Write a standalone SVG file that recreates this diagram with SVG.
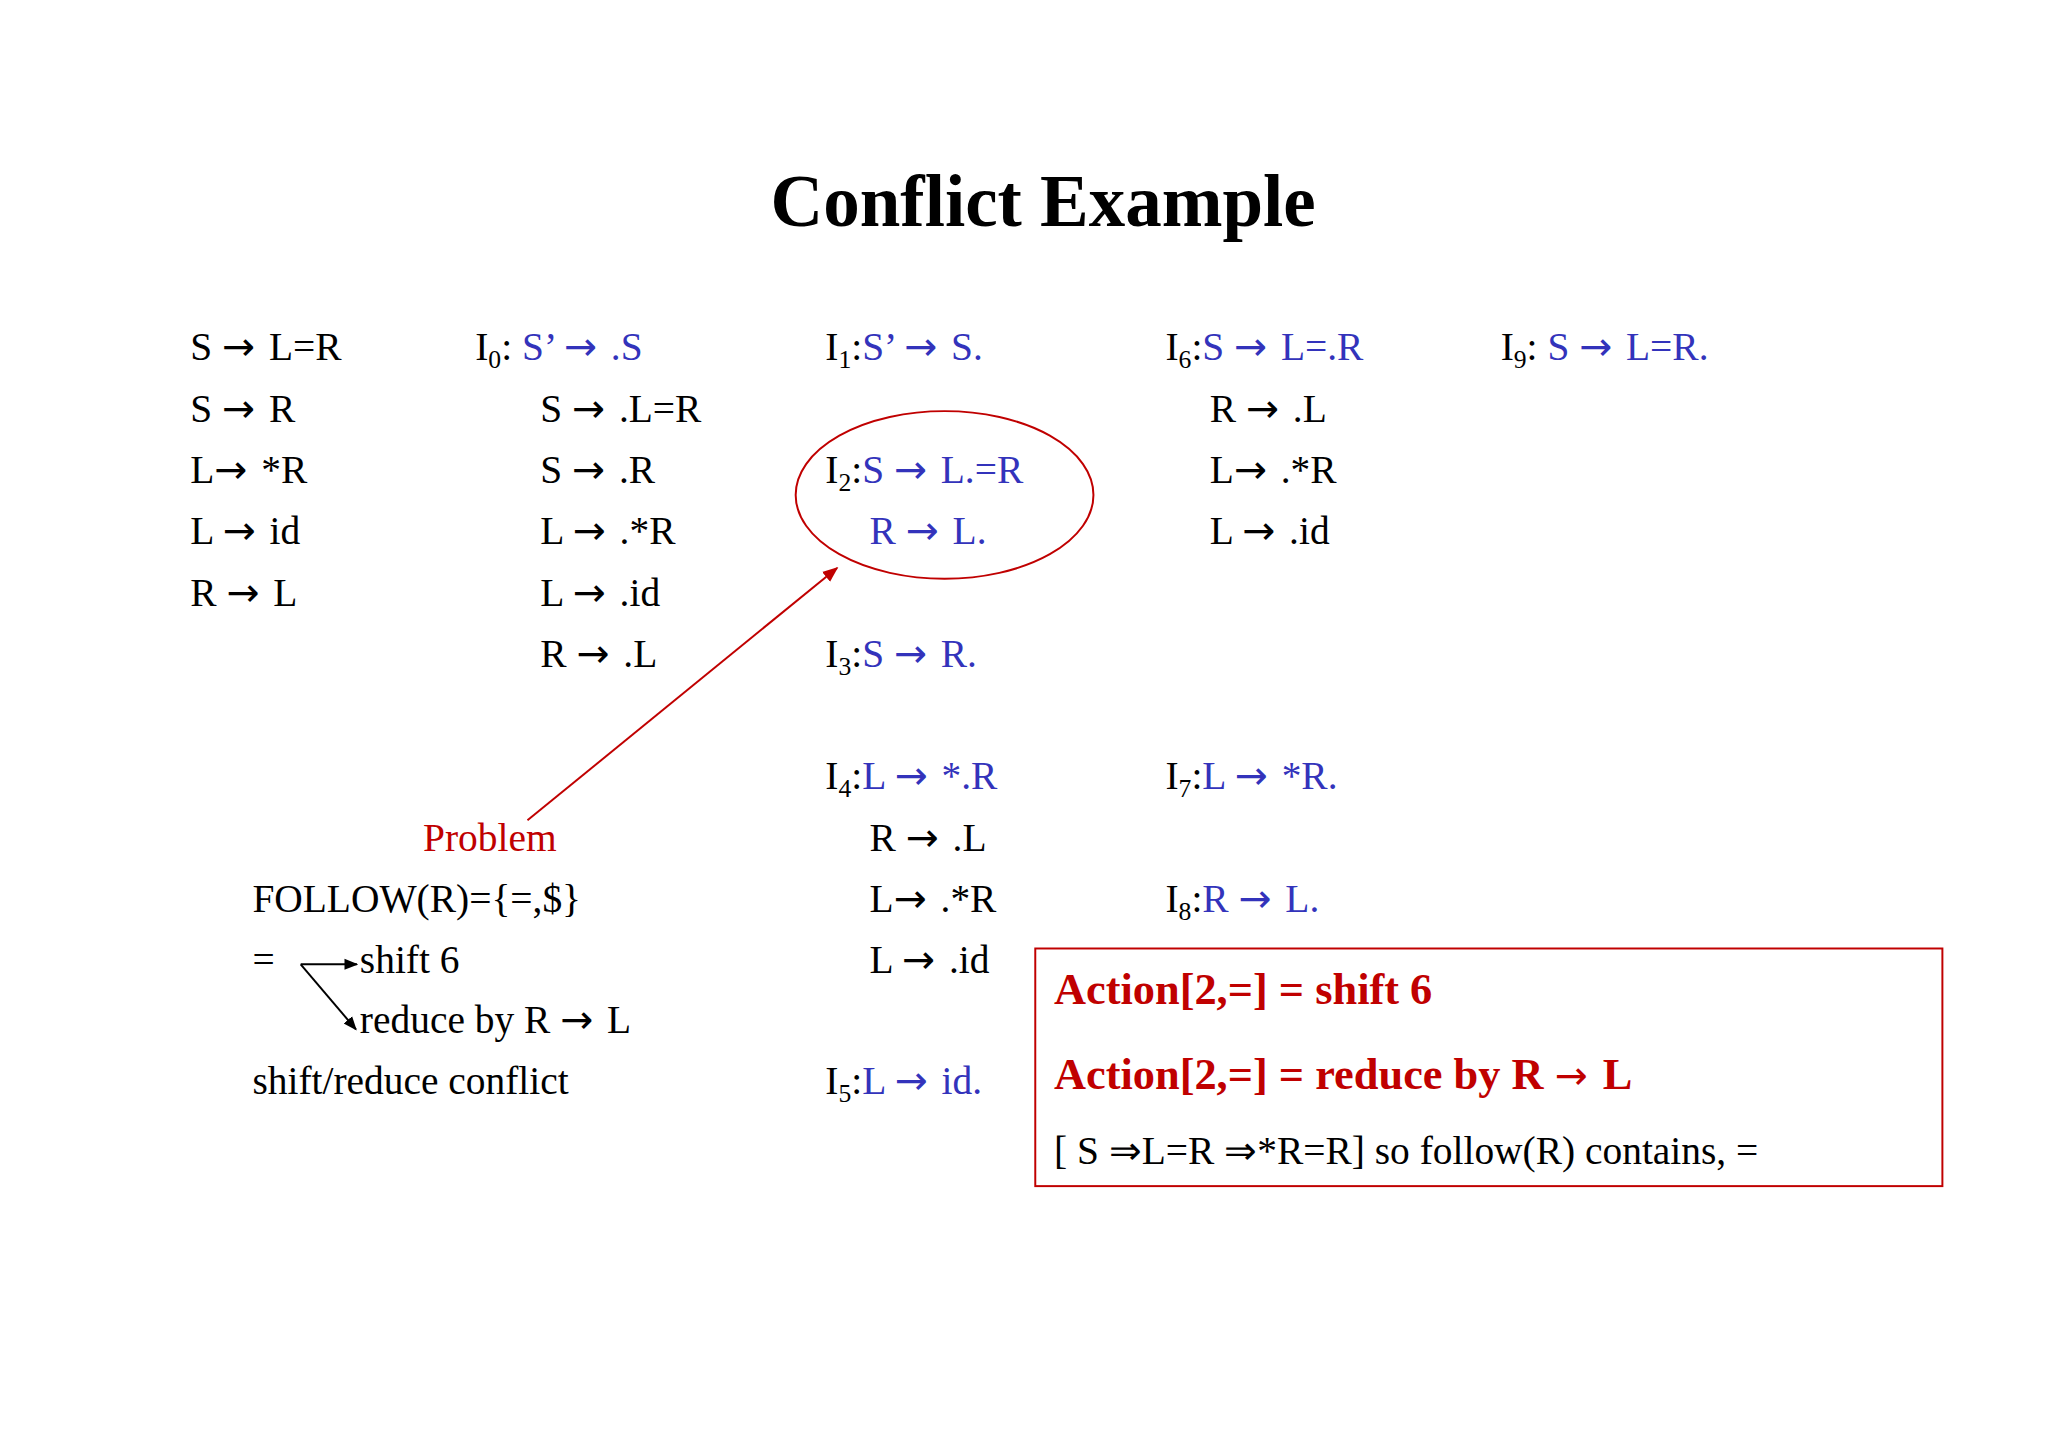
<svg xmlns="http://www.w3.org/2000/svg" width="2048" height="1447" viewBox="0 0 2048 1447">
<defs>
<style>
text{font-family:"Liberation Serif","Times New Roman",serif;font-size:40px;fill:#000}
.b{fill:#3333bb}
.r{fill:#c00000}
.s{font-size:26px}
.a{font-family:"DejaVu Sans",sans-serif;font-size:40px;font-weight:normal;letter-spacing:4px}
.act{font-weight:bold;font-size:45px;fill:#c00000}
</style>
<marker id="ar" viewBox="0 0 10 10" refX="9" refY="5" markerWidth="8" markerHeight="8" orient="auto"><path d="M0,1 L10,5 L0,9 z" fill="#c00000"/></marker>
<marker id="ak" viewBox="0 0 10 10" refX="9" refY="5" markerWidth="7" markerHeight="7" orient="auto"><path d="M0,1 L10,5 L0,9 z" fill="#000"/></marker>
</defs>
<rect width="2048" height="1447" fill="#fff"/>
<g transform="translate(-2,-3) scale(0.986)">
<text x="1060" y="232" text-anchor="middle" style="font-size:74px;font-weight:bold">Conflict Example</text>
<g id="grammar">
<text x="195" y="368">S <tspan class="a">→</tspan> L=R</text>
<text x="195" y="431">S <tspan class="a">→</tspan> R</text>
<text x="195" y="493">L<tspan class="a">→</tspan> *R</text>
<text x="195" y="555">L <tspan class="a">→</tspan> id</text>
<text x="195" y="618">R <tspan class="a">→</tspan> L</text>
</g>
<g id="I0">
<text x="484" y="368">I<tspan class="s" dy="8">0</tspan><tspan dy="-8">:  </tspan><tspan class="b">S’ <tspan class="a">→</tspan> .S</tspan></text>
<text x="550" y="431">S <tspan class="a">→</tspan> .L=R</text>
<text x="550" y="493">S <tspan class="a">→</tspan> .R</text>
<text x="550" y="555">L <tspan class="a">→</tspan> .*R</text>
<text x="550" y="618">L <tspan class="a">→</tspan> .id</text>
<text x="550" y="680">R <tspan class="a">→</tspan> .L</text>
</g>
<g id="I1"><text x="839" y="368">I<tspan class="s" dy="8">1</tspan><tspan dy="-8">:</tspan><tspan class="b">S’ <tspan class="a">→</tspan> S.</tspan></text></g>
<g id="I2">
<text x="839" y="493">I<tspan class="s" dy="8">2</tspan><tspan dy="-8">:</tspan><tspan class="b">S <tspan class="a">→</tspan> L.=R</tspan></text>
<text x="884" y="555" class="b">R <tspan class="a">→</tspan> L.</text>
<ellipse cx="960" cy="505" rx="151" ry="85" fill="none" stroke="#c00000" stroke-width="2"/>
</g>
<g id="I3"><text x="839" y="680">I<tspan class="s" dy="8">3</tspan><tspan dy="-8">:</tspan><tspan class="b">S <tspan class="a">→</tspan> R.</tspan></text></g>
<g id="I4">
<text x="839" y="803">I<tspan class="s" dy="8">4</tspan><tspan dy="-8">:</tspan><tspan class="b">L <tspan class="a">→</tspan> *.R</tspan></text>
<text x="884" y="866">R <tspan class="a">→</tspan> .L</text>
<text x="884" y="928">L<tspan class="a">→</tspan> .*R</text>
<text x="884" y="990">L <tspan class="a">→</tspan> .id</text>
</g>
<g id="I5"><text x="839" y="1113">I<tspan class="s" dy="8">5</tspan><tspan dy="-8">:</tspan><tspan class="b">L <tspan class="a">→</tspan> id.</tspan></text></g>
<g id="I6">
<text x="1184" y="368">I<tspan class="s" dy="8">6</tspan><tspan dy="-8">:</tspan><tspan class="b">S <tspan class="a">→</tspan> L=.R</tspan></text>
<text x="1229" y="431">R <tspan class="a">→</tspan> .L</text>
<text x="1229" y="493">L<tspan class="a">→</tspan> .*R</text>
<text x="1229" y="555">L <tspan class="a">→</tspan> .id</text>
</g>
<g id="I7"><text x="1184" y="803">I<tspan class="s" dy="8">7</tspan><tspan dy="-8">:</tspan><tspan class="b">L <tspan class="a">→</tspan> *R.</tspan></text></g>
<g id="I8"><text x="1184" y="928">I<tspan class="s" dy="8">8</tspan><tspan dy="-8">:</tspan><tspan class="b">R <tspan class="a">→</tspan> L.</tspan></text></g>
<g id="I9"><text x="1524" y="368">I<tspan class="s" dy="8">9</tspan><tspan dy="-8">:  </tspan><tspan class="b">S <tspan class="a">→</tspan> L=R.</tspan></text></g>
<g id="notes">
<text x="431" y="866" class="r">Problem</text>
<text x="258" y="928">FOLLOW(R)={=,$}</text>
<text x="258" y="990">=</text>
<text x="367" y="990">shift 6</text>
<text x="367" y="1051">reduce by R <tspan class="a">→</tspan> L</text>
<text x="258" y="1113">shift/reduce conflict</text>
</g>
<g id="box">
<rect x="1052" y="965" width="920" height="241" fill="none" stroke="#c00000" stroke-width="2"/>
<text x="1071" y="1021" class="act">Action[2,=] = shift 6</text>
<text x="1071" y="1107" class="act">Action[2,=] = reduce by R <tspan class="a">→</tspan> L</text>
<text x="1071" y="1184">[ S ⇒L=R ⇒*R=R] so follow(R) contains,  =</text>
</g>
<g id="connectors">
<line x1="537" y1="835" x2="851" y2="579" stroke="#c00000" stroke-width="2" marker-end="url(#ar)"/>
<line x1="307" y1="981" x2="364" y2="981" stroke="#000" stroke-width="2" marker-end="url(#ak)"/>
<line x1="307" y1="981" x2="363" y2="1047" stroke="#000" stroke-width="2" marker-end="url(#ak)"/>
</g>
</g>
</svg>
